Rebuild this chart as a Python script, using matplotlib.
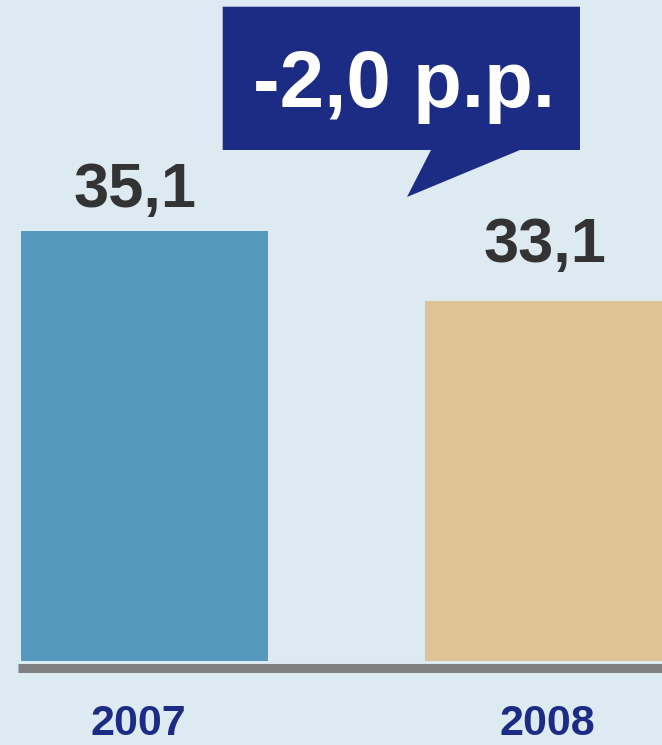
import matplotlib
matplotlib.use("Agg")
import matplotlib.pyplot as plt
import matplotlib.transforms as mtransforms
from matplotlib.patches import Polygon

# data
years = ['2007', '2008']
values = [35.1, 33.1]
value_labels = ['35,1', '33,1']
change_label = '-2,0 p.p.'

bg = '#DEEAF2'
bar_colors = ['#559ABE', '#DFC397']
navy = '#1C2B83'
W, H = 662, 745

fig = plt.figure(figsize=(W / 100, H / 100), dpi=100)
fig.patch.set_facecolor(bg)
ax = fig.add_axes([0, 0, 1, 1])
ax.set_facecolor(bg)

# axis does not start at zero: 35 px per unit, bars stand on y=base
base = 22.81
px = 35.0
ax.set_ylim(base - 84 / px, base + 661 / px)
ax.set_xlim(-144.5 / 404, (W - 144.5) / 404)
for s in ax.spines.values():
    s.set_visible(False)
ax.set_xticks([])
ax.set_yticks([])

x = list(range(len(years)))
ax.bar(x, [v - base for v in values], bottom=base, width=0.611,
       color=bar_colors, zorder=2)

# grey baseline
ax.axhline(base - 6.8 / px, xmin=18 / W, xmax=1, color='#808080', lw=6.5,
           solid_capstyle='butt', zorder=3)

# value labels
label_offsets = [(-9, 24), (-4, 39)]
for i, (v, lab) in enumerate(zip(values, value_labels)):
    ax.annotate(lab, (i, v), xytext=label_offsets[i], textcoords='offset pixels',
                ha='center', va='baseline', fontsize=45.5, fontweight='bold',
                color='#333333', family=['Liberation Sans', 'DejaVu Sans'])

# year labels under the axis
trans = mtransforms.blended_transform_factory(ax.transData, ax.transAxes)
year_offsets = [-6, -1]
for i, yr in enumerate(years):
    ax.annotate(yr, (i, 0), xycoords=trans, xytext=(year_offsets[i], 1),
                textcoords='offset pixels', ha='center', va='bottom',
                fontsize=31, fontweight='bold', color=navy,
                family=['Liberation Sans', 'DejaVu Sans'])

# speech-bubble callout with the change
pts = [(222.7, 6.7), (580, 6.7), (580, 150), (520, 150), (407, 197),
       (431, 150), (222.7, 150)]
pts = [(px_x / W, 1 - px_y / H) for px_x, px_y in pts]
fig.patches.append(Polygon(pts, closed=True, transform=fig.transFigure,
                           facecolor=navy, edgecolor='none', zorder=5))
fig.text(404 / W, 1 - 106.7 / H, change_label, ha='center', va='baseline',
         fontsize=57.5, fontweight='bold', color='white', zorder=6,
         family=['Liberation Sans', 'DejaVu Sans'])

fig.savefig('out.png', dpi=100, facecolor=bg)
